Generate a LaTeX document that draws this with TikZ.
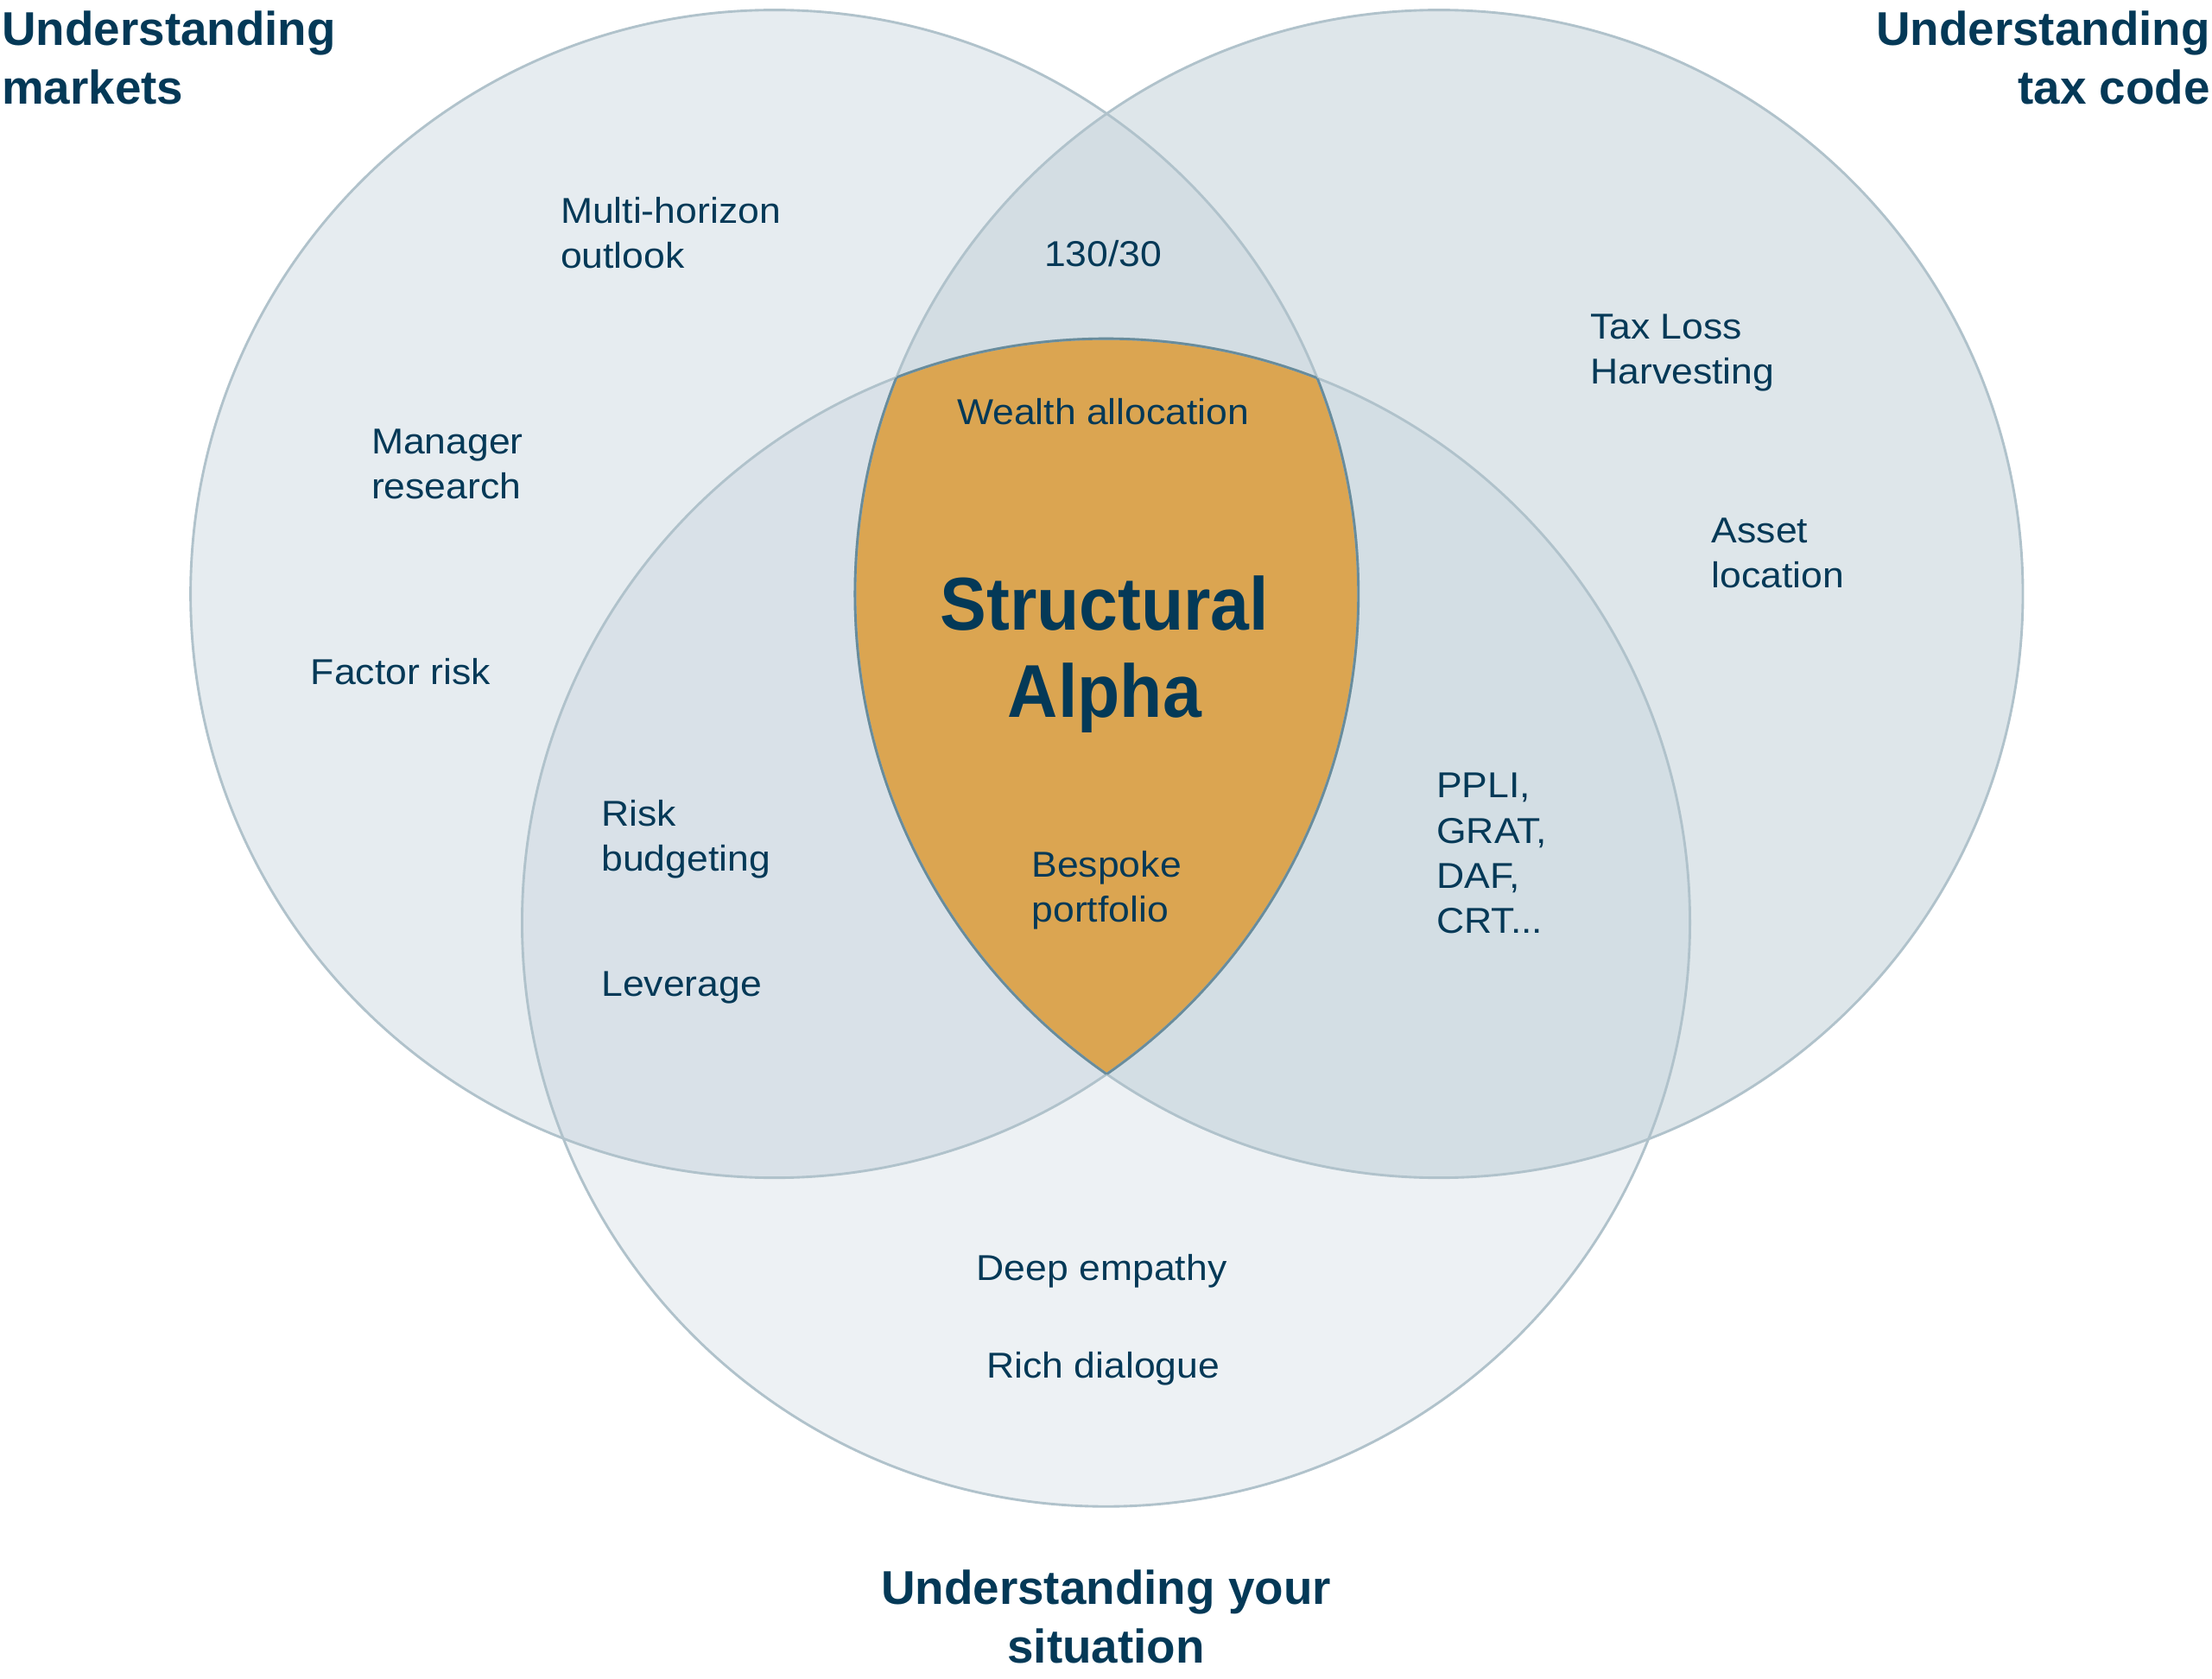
\documentclass[tikz,border=0pt]{standalone}
\usepackage{fontspec}
\newfontfamily\bodyfont{Liberation Sans}[FakeStretch=1.07]
\newfontfamily\headfont{Liberation Sans}[FakeStretch=1.0]
\newfontfamily\alphafont{Liberation Sans}[FakeStretch=0.93]
\definecolor{ink}{RGB}{4,57,87}
\definecolor{mktfill}{RGB}{230,236,240}
\definecolor{taxfill}{RGB}{222,230,234}
\definecolor{youfill}{RGB}{237,241,244}
\definecolor{mtfill}{RGB}{211,221,227}
\definecolor{myfill}{RGB}{217,225,232}
\definecolor{tyfill}{RGB}{211,222,228}
\definecolor{corefill}{RGB}{219,165,81}
\definecolor{ringline}{RGB}{176,194,203}
\definecolor{coreline}{RGB}{104,140,156}
\tikzset{
  txt/.style={font=\bodyfont\fontsize{14.5}{18.2}\selectfont,text=ink,inner sep=0pt,align=left},
  txtc/.style={txt,align=center},
  head/.style={font=\headfont\bfseries\fontsize{19.1}{23.9}\selectfont,text=ink,inner sep=0pt},
  ring/.style={draw=ringline,line width=1pt},
  core/.style={draw=coreline,line width=1pt},
}
% the three sets: markets (left), tax code (right), your situation (bottom)
\newcommand\circM{(549,421) circle (8.28cm)}
\newcommand\circT{(1020,421) circle (8.28cm)}
\newcommand\circY{(784,654) circle (8.28cm)}

\begin{document}
\begin{tikzpicture}[x=0.02cm,y=-0.02cm]
  \useasboundingbox[fill=white] (0,0) rectangle (1568,1190);

  % plain fills, then the pairwise overlaps and the core
  \fill[mktfill] \circM;
  \fill[taxfill] \circT;
  \fill[youfill] \circY;
  \begin{scope} \clip \circM; \fill[mtfill] \circT; \end{scope}
  \begin{scope} \clip \circM; \fill[myfill] \circY; \end{scope}
  \begin{scope} \clip \circT; \fill[tyfill] \circY; \end{scope}
  \begin{scope} \clip \circM; \clip \circT; \fill[corefill] \circY; \end{scope}

  \draw[ring] \circM; \draw[ring] \circT; \draw[ring] \circY;
  % darker rim round the core, one arc of each circle
  \begin{scope} \clip \circM; \clip \circT; \draw[core] \circY; \end{scope}
  \begin{scope} \clip \circM; \clip \circY; \draw[core] \circT; \end{scope}
  \begin{scope} \clip \circT; \clip \circY; \draw[core] \circM; \end{scope}

  % set titles
  \node[head,anchor=west,align=left] (tm) at (1,41){Understanding\\markets};
  \node[head,anchor=east,align=right] (tt) at (1567,41){Understanding\\tax code};
  \node[head,align=center] (ty) at (784,1146){Understanding your\\situation};

  % markets only
  \node[txt,anchor=west] (mh) at (397,165){Multi-horizon\\outlook};
  \node[txt,anchor=west] (mr) at (263,329){Manager\\research};
  \node[txt,anchor=west] (fr) at (220,476){Factor risk};
  % tax code only
  \node[txt,anchor=west] (tl) at (1127,250){Tax Loss\\Harvesting};
  \node[txt,anchor=west] (al) at (1213,392){Asset\\location};
  % overlaps
  \node[txtc] (ls) at (782,180){130/30};
  \node[txt,anchor=west] (rb) at (426,595){Risk\\budgeting};
  \node[txt,anchor=west] (lv) at (426,700){Leverage};
  \node[txt,anchor=west] (pp) at (1018,605){PPLI,\\GRAT,\\DAF,\\CRT...};
  % the core
  \node[txtc] (wa) at (782,292){Wealth allocation};
  \node[txtc,font=\alphafont\bfseries\fontsize{30.2}{35.3}\selectfont] (sa) at (783,464){Structural\\Alpha};
  \node[txt,anchor=west] (bp) at (731,631){Bespoke\\portfolio};
  % your situation only
  \node[txtc] (de) at (781,901){Deep empathy};
  \node[txtc] (rd) at (782,970){Rich dialogue};
\end{tikzpicture}
\end{document}
